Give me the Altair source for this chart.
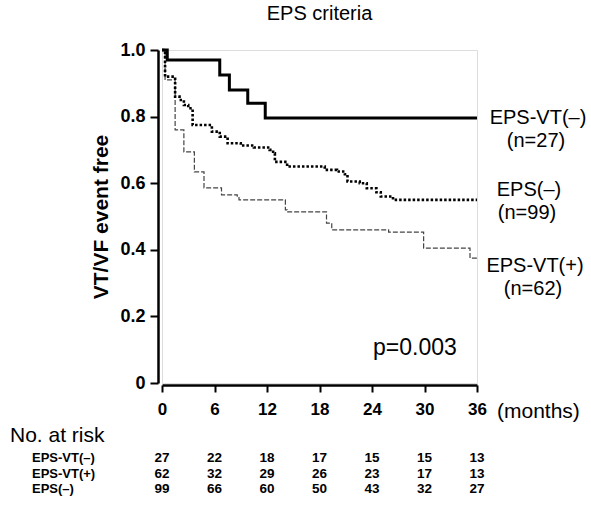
import altair as alt
import pandas as pd

FONT = "Liberation Sans"

# ---- Kaplan-Meier step curves (months, event-free fraction) ----
vtneg_t = [0, 0.6, 6.6, 7.7, 9.8, 11.8, 36]
vtneg_s = [1.0, 0.97, 0.925, 0.88, 0.84, 0.796, 0.796]

epsneg_t = [0, 0.35, 1.5, 2.0, 2.5, 3.0, 3.5, 5.7, 6.6, 7.5, 9.0, 10.5, 12.3, 12.7,
            12.9, 14.3, 18.6, 20.0, 20.9, 21.2, 22.6, 23.4, 24.5, 25.0, 26.4, 36]
epsneg_s = [1.0, 0.92, 0.86, 0.85, 0.835, 0.825, 0.775, 0.755, 0.74, 0.72, 0.713, 0.707,
            0.70, 0.69, 0.664, 0.65, 0.64, 0.635, 0.627, 0.605, 0.60, 0.585, 0.573, 0.56,
            0.55, 0.55]

vtpos_t = [0, 0.35, 1.5, 2.5, 3.7, 4.8, 6.8, 8.6, 8.8, 14.1, 14.3, 18.8, 19.4, 25.9,
           29.9, 35.2, 36]
vtpos_s = [1.0, 0.91, 0.76, 0.694, 0.634, 0.586, 0.565, 0.559, 0.55, 0.52, 0.514, 0.48,
           0.46, 0.453, 0.405, 0.375, 0.375]

# ---- Numbers at risk ----
risk_months = [0, 6, 12, 18, 24, 30, 36]
risk_groups = ["EPS-VT(–)", "EPS-VT(+)", "EPS(–)"]
risk_vtneg = [27, 22, 18, 17, 15, 15, 13]
risk_vtpos = [62, 32, 29, 26, 23, 17, 13]
risk_epsneg = [99, 66, 60, 50, 43, 32, 27]

# ---- Curve end labels ----
lab_line1 = ["EPS-VT(–)", "EPS(–)", "EPS-VT(+)"]
lab_line2 = ["(n=27)", "(n=99)", "(n=62)"]
lab_value = [0.796, 0.55, 0.375]

x_ticks = [0, 6, 12, 18, 24, 30, 36]
y_ticks = [0, 0.2, 0.4, 0.6, 0.8, 1.0]

W, H = 315, 333

xscale = alt.Scale(domain=[0, 36], nice=False, zero=False)
yscale = alt.Scale(domain=[0, 1], nice=False)

X = alt.X("t:Q", scale=xscale,
          axis=alt.Axis(values=x_ticks, title=None, offset=2, tickSize=7, tickWidth=2,
                        domainWidth=2.5, domainColor="black", tickColor="black",
                        labelFontSize=17, labelFontWeight="bold", labelFont=FONT,
                        labelColor="black", labelPadding=9, labelFlush=False, grid=False))
Y = alt.Y("s:Q", scale=yscale,
          axis=alt.Axis(values=y_ticks, title="VT/VF event free", offset=4, tickSize=8,
                        tickWidth=2, domainWidth=2.5, domainColor="black", tickColor="black",
                        labelFontSize=18, labelFontWeight="bold", labelFont=FONT,
                        labelColor="black", labelPadding=5,
                        labelExpr="datum.value == 0 ? '0' : format(datum.value, '.1f')",
                        titleFontSize=21, titleFontWeight="bold", titleFont=FONT,
                        titleColor="black", titlePadding=8, grid=False))

d_vtneg = pd.DataFrame({"t": vtneg_t, "s": vtneg_s})
d_epsneg = pd.DataFrame({"t": epsneg_t, "s": epsneg_s})
d_vtpos = pd.DataFrame({"t": vtpos_t, "s": vtpos_s})

line_vtpos = alt.Chart(d_vtpos).mark_line(
    interpolate="step-after", color="#444444", strokeWidth=1.2, strokeDash=[5, 2]
).encode(x=X, y=Y)
line_epsneg = alt.Chart(d_epsneg).mark_line(
    interpolate="step-after", color="black", strokeWidth=2.6, strokeDash=[2.5, 2]
).encode(x="t:Q", y="s:Q")
line_vtneg = alt.Chart(d_vtneg).mark_line(
    interpolate="step-after", color="black", strokeWidth=3
).encode(x="t:Q", y="s:Q")

# curve labels
d_lab = pd.DataFrame({"t": [36] * 3, "s": lab_value, "l1": lab_line1, "l2": lab_line2,
                      "dy1": [0, -10, 8], "dx": [61, 52, 58]})
labels = []
for i in range(3):
    row = d_lab.iloc[[i]]
    labels.append(alt.Chart(row).mark_text(
        font=FONT, fontSize=20, align="center", baseline="middle", color="black",
        dx=float(d_lab.dx[i]), dy=float(d_lab.dy1[i])
    ).encode(x="t:Q", y="s:Q", text="l1:N"))
    labels.append(alt.Chart(row).mark_text(
        font=FONT, fontSize=20, align="center", baseline="middle", color="black",
        dx=float(d_lab.dx[i]) - 2, dy=float(d_lab.dy1[i]) + 23
    ).encode(x="t:Q", y="s:Q", text="l2:N"))

pval = alt.Chart(pd.DataFrame({"t": [28.9], "s": [0.105], "txt": ["p=0.003"]})).mark_text(
    font=FONT, fontSize=23, align="center", baseline="middle", color="black"
).encode(x="t:Q", y="s:Q", text="txt:N")

months_lab = alt.Chart(pd.DataFrame({"txt": ["(months)"]})).mark_text(
    font=FONT, fontSize=21, align="left", baseline="middle", color="black"
).encode(x=alt.value(335), y=alt.value(362), text="txt:N")

noatrisk = alt.Chart(pd.DataFrame({"txt": ["No. at risk"]})).mark_text(
    font=FONT, fontSize=21, align="left", baseline="middle", color="black"
).encode(x=alt.value(-152), y=alt.value(386), text="txt:N")

risk_layers = []
row_y = [408, 423.5, 439]
for g, vals, yy in zip(risk_groups, [risk_vtneg, risk_vtpos, risk_epsneg], row_y):
    df = pd.DataFrame({"t": risk_months, "n": vals, "g": [g] * len(vals)})
    risk_layers.append(alt.Chart(df).mark_text(
        font=FONT, fontSize=13.5, fontWeight="bold", align="center", baseline="middle",
        color="black"
    ).encode(x="t:Q", y=alt.value(yy), text="n:Q"))
    risk_layers.append(alt.Chart(df.iloc[[0]]).mark_text(
        font=FONT, fontSize=13, fontWeight="bold", align="left", baseline="middle",
        color="black"
    ).encode(x=alt.value(-130), y=alt.value(yy), text="g:N"))

chart = alt.layer(
    line_vtpos, line_epsneg, line_vtneg, *labels, pval, months_lab, noatrisk, *risk_layers
).properties(
    width=W, height=H,
    title=alt.TitleParams("EPS criteria", font=FONT, fontSize=20, fontWeight="normal",
                          color="black", anchor="middle", offset=17),
    padding={"left": 162, "top": 50, "right": 114, "bottom": 123},
    autosize=alt.AutoSizeParams(type="none"),
).configure_view(stroke=None).configure(background="white")

chart.save("out.html", embed_options={"renderer": "svg", "actions": False})
